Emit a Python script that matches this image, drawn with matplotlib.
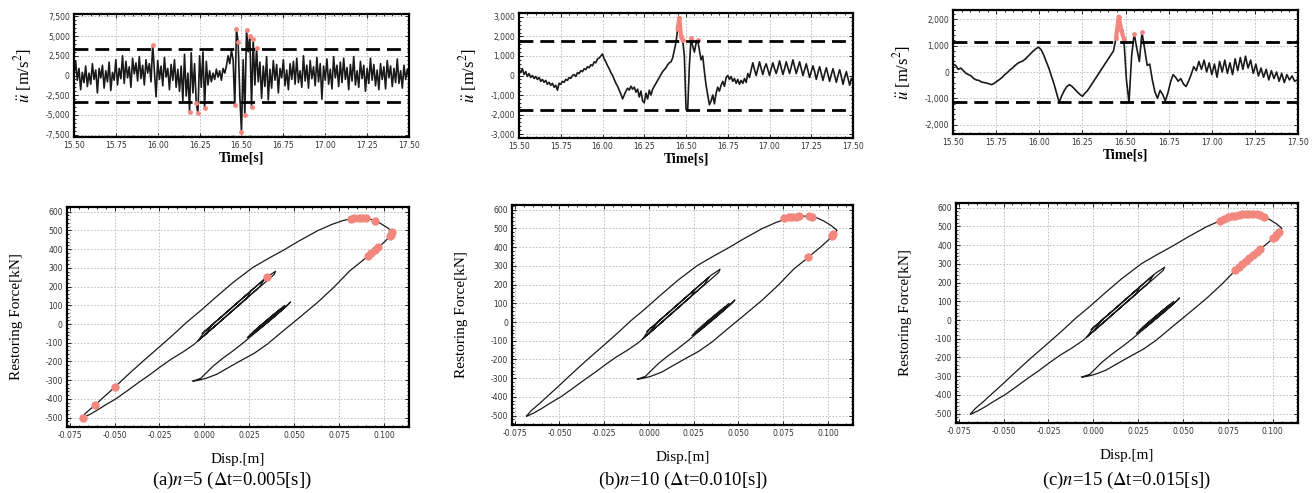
import numpy as np
import matplotlib.pyplot as plt
from matplotlib.ticker import FuncFormatter, AutoMinorLocator, MultipleLocator

plt.rcParams['mathtext.fontset'] = 'stix'
SERIF = 'Liberation Serif'
RED = '#f2877e'

# --- acceleration records (m/s^2), sampled every dt from 15.50 s ---
dt_a, lim_a = 0.01, 3400
acc_a = [
    0, 1800, -600, 900, -1800, 400, -900, 1200, -1400, 300,
    -1100, 1500, -500, 700, -2200, 900, -300, 1300, -1600, 600,
    -800, 1700, -1900, 400, -600, 2000, -1200, 900, -400, 2500,
    -1000, 1800, -300, 1100, -1500, 2200, 200, 1600, -700, 2400,
    -400, 1300, -1200, 2000, 300, 1500, -800, 3900, 600, -2700,
    1900, -500, 1200, -1300, 2300, -200, 900, -1800, 1400, -600,
    2000, -1500, 800, -2000, 1200, -3200, 2700, -2600, 300, -4600,
    2900, -2200, 1500, -3500, -4800, 2500, -1500, 3000, -4100, 1800,
    -1200, 600, -800, 300, -500, 800, -200, 600, -600, 900,
    300, 1200, 2500, 1500, 3200, 2000, -3800, 5900, 4200, -2500,
    -7200, 2000, -5000, 5800, 3000, 5000, -4000, 4600, -1200, 3500,
    -800, 1700, -2900, 1200, -1400, 2400, -3100, 800, -1600, 1900,
    -600, 1400, -2200, 900, -300, 2000, -1300, 700, -1800, 1500,
    -500, 1800, -1100, 2200, -900, 600, -1500, 2500, -700, 1300,
    -1600, 1900, -400, 1100, -1300, 2300, -800, 1500, -3000, 1200,
    -600, 2100, -1100, 800, -1700, 2400, -300, 1300, -1400, 1700,
    -900, 2200, -500, 1000, -1800, 1400, -700, 2400, -1200, 600,
    -1500, 1800, -400, 1300, -2000, 900, -1000, 2200, -600, 1400,
    -1300, 700, -1800, 1500, -500, 1100, -1700, 1900, -300, 1200,
    -1400, 900, -900, 2100, -1000, 600, -1600, 1300, -500, 800,
    -300,
]

dt_b, lim_b = 0.01, 1750
acc_b = [
    300, 150, 350, 50, 200, -50, 100, -100, 0, -150,
    -50, -200, -100, -300, -200, -350, -250, -450, -350, -500,
    -400, -600, -500, -750, -400, -450, -300, -350, -200, -250,
    -100, -150, 0, 50, -50, 150, 100, 250, 200, 350,
    300, 450, 400, 550, 500, 700, 650, 850, 900, 1000,
    1100, 850, 700, 500, 350, 150, 0, -200, -400, -550,
    -750, -950, -1200, -1000, -800, -650, -750, -550, -700, -600,
    -850, -700, -1100, -800, -1300, -1400, -900, -1200, -750, -1000,
    -700, -550, -400, -250, -100, 50, 200, 300, 400, 550,
    650, 700, 900, 1300, 1700, 2400, 2950, 2000, 1800, 1000,
    -1740, -1740, 500, 1900, 1500, 1200, 1650, 1800, 1300, 800,
    1000, 200, -500, -1000, -1500, -1300, -1000, -1450, -900, -600,
    -800, -500, -300, -550, -100, 0, -200, -50, -300, -150,
    -400, -200, -450, -250, -400, -150, -350, 100, -100, 300,
    650, 300, 0, 350, 700, 350, 50, 400, 600, 300,
    0, 350, 650, 350, 100, 400, 750, 400, 50, 350,
    700, 400, 100, 450, 800, 450, 100, 400, 700, 350,
    0, 300, 600, 250, -100, 200, 500, 200, -200, 150,
    450, 100, -250, 100, 400, 50, -300, 50, 350, 0,
    -350, 0, 300, -50, -450, -100, 200, -150, -500, -150,
    -300,
]

dt_c, lim_c = 0.015, 1150
acc_c = [
    300, 250, 100, 150, 50, -50, -100, -150, -250, -300,
    -320, -380, -400, -420, -450, -480, -420, -350, -280, -200,
    -100, -20, 80, 150, 250, 330, 380, 420, 500, 600,
    700, 800, 880, 940, 850, 650, 400, 150, -150, -450,
    -800, -1150, -900, -700, -550, -480, -550, -650, -750, -850,
    -920, -800, -700, -550, -400, -250, -100, 50, 200, 350,
    500, 650, 800, 1300, 2100, 1600, 1250, -300, -1150, 600,
    1450, 900, 400, 1500, 900, 250, 300, -300, -750, -1000,
    -700, -850, -1100, -800, -400, -100, -200, -350, -250, -450,
    -550, -350, -100, 200, 50, 400, 100, 450, 0, 350,
    -100, 300, -200, 400, 0, 450, -50, 350, -100, 500,
    50, 550, 100, 600, 150, 450, -50, 300, -150, 150,
    -200, 100, -300, 50, -250, 0, -350, -50, -400, -100,
    -300, -150, -350, -300,
]

# --- hysteresis path: displacement (m) and restoring force (kN) ---
disp = [
    # small cycles around the origin
    -0.0012, 0.0098, 0.0198, 0.0258, 0.0234, 0.0132, 0.0055, -0.0005,
    0.0054, 0.0156, 0.0281, 0.0335, 0.0309, 0.0190, 0.0090, -0.0035,
    0.0001, 0.0126, 0.0251, 0.0347, 0.0397,
    0.0389, 0.0345, 0.0263, 0.0182, 0.0102, 0.0019, -0.0059,
    # down to the negative peak
    -0.012, -0.018, -0.024, -0.030, -0.037, -0.043, -0.049, -0.055, -0.060, -0.064,
    -0.0675, -0.0685,
    # up to the positive peak
    -0.066, -0.061, -0.056, -0.050, -0.043, -0.034, -0.025, -0.017, -0.010, -0.002,
    0.006, 0.016, 0.027, 0.036, 0.044, 0.053, 0.063, 0.071, 0.077, 0.0815,
    0.086, 0.090, 0.094, 0.098, 0.102, 0.105,
    # unloading
    0.1035, 0.101, 0.097, 0.092, 0.087, 0.081, 0.072, 0.063, 0.053, 0.044,
    0.035, 0.028, 0.020, 0.013, 0.007, 0.001, -0.004, -0.0065,
    -0.002, 0.005, 0.010, 0.016, 0.022, 0.0274, 0.033, 0.0386, 0.043, 0.0475, 0.048,
    # free vibration at the end
    0.0449, 0.0389, 0.0332, 0.0282, 0.0240,
    0.0275, 0.0335, 0.0395, 0.0448,
    0.0426, 0.0366, 0.0311, 0.0269,
    0.0304, 0.0363, 0.0423,
    0.0399, 0.0338, 0.0301,
    0.0333, 0.0392,
    0.0370, 0.0326,
]
force = [
    -50, 40, 125, 175, 135, 50, -15, -65,
    5, 90, 195, 240, 200, 100, 15, -90,
    -40, 65, 170, 250, 282,
    265, 228, 160, 92, 25, -45, -110,
    -150, -185, -225, -268, -315, -357, -398, -432, -462, -484,
    -500, -503,
    -475, -434, -390, -338, -275, -197, -122, -54, 8, 72,
    140, 222, 302, 352, 394, 445, 498, 532, 552, 562,
    566, 565, 556, 538, 514, 490,
    470, 445, 410, 370, 330, 284, 195, 115, 35, -36,
    -108, -155, -197, -235, -268, -290, -302, -305,
    -290, -224, -185, -143, -98, -54, -10, 35, 72, 112, 118,
    88, 40, -5, -45, -72,
    -38, 10, 58, 100,
    70, 22, -22, -55,
    -15, 32, 80,
    48, 0, -30,
    8, 55,
    25, -10,
]

# points flagged in each case (disp, force)
flag_a = [(-0.0675, -500), (-0.061, -434), (-0.050, -338), (0.0347, 250),
          (0.0815, 562), (0.0835, 564), (0.086, 566), (0.088, 566), (0.090, 565),
          (0.095, 552), (0.1045, 492), (0.104, 478), (0.1035, 468),
          (0.097, 410), (0.095, 395), (0.093, 378), (0.091, 362)]
flag_b = [(0.0755, 556), (0.078, 560), (0.080, 562), (0.082, 563), (0.084, 565),
          (0.0895, 564), (0.091, 561), (0.103, 470), (0.1025, 462), (0.089, 348)]
flag_c = [(0.0707, 531), (0.073, 540), (0.075, 548), (0.077, 553), (0.079, 558),
          (0.081, 561), (0.083, 564), (0.085, 566), (0.087, 566), (0.089, 566),
          (0.091, 564), (0.093, 560), (0.095, 552),
          (0.1035, 470), (0.1025, 462), (0.101, 445), (0.100, 437),
          (0.079, 268), (0.081, 284), (0.083, 300), (0.085, 316), (0.087, 330),
          (0.089, 346), (0.091, 362), (0.093, 378)]

cases = [
    (acc_a, dt_a, lim_a, 7800, 2500, flag_a, r'(a)$n$=5 ($\Delta$t=0.005[s])'),
    (acc_b, dt_b, lim_b, 3200, 1000, flag_b, r'(b)$n$=10 ($\Delta$t=0.010[s])'),
    (acc_c, dt_c, lim_c, 2350, 1000, flag_c, r'(c)$n$=15 ($\Delta$t=0.015[s])'),
]

top_rects = [[0.0562, 0.7221, 0.2546, 0.2495],
             [0.3944, 0.7201, 0.2538, 0.2535],
             [0.7242, 0.7282, 0.2622, 0.2515]]
bot_rects = [[0.0509, 0.1339, 0.2599, 0.4462],
             [0.3891, 0.1379, 0.2591, 0.4462],
             [0.7264, 0.1420, 0.2599, 0.4462]]
cap_x = [0.176, 0.519, 0.856]


def style(ax):
    for s in ax.spines.values():
        s.set_linewidth(1.6)
    ax.tick_params(which='both', direction='in', labelsize=5.5, labelcolor='#333333',
                   width=0.6, top=True, right=True, pad=3)
    ax.tick_params(which='major', length=3)
    ax.tick_params(which='minor', length=1.5)
    ax.xaxis.set_minor_locator(AutoMinorLocator(5))
    ax.yaxis.set_minor_locator(AutoMinorLocator(5))
    ax.grid(True, which='major', color='#b8b8b8', ls=(0, (2, 2)), lw=0.6)
    ax.set_axisbelow(True)


fig = plt.figure(figsize=(13.16, 4.93), dpi=100)

for k, (acc, dt, lim, ymax, ystep, flags, cap) in enumerate(cases):
    acc = np.array(acc, dtype=float)
    t = 15.5 + dt * np.arange(len(acc))

    ax = fig.add_axes(top_rects[k])
    style(ax)
    ax.plot(t, acc, color='#1a1a1a', lw=1.2, zorder=2)
    # exceedances of the threshold
    over = np.abs(acc) > lim
    if k > 0:
        ax.plot(t, np.where(acc > lim, acc, np.nan), color=RED, lw=3, zorder=3)
    ax.plot(t[over], acc[over], 'o', color=RED, ms=3.5, mec='none', zorder=4)
    ax.axhline(lim, color='black', lw=2, ls=(0, (5, 2.5)), zorder=5)
    ax.axhline(-lim, color='black', lw=2, ls=(0, (5, 2.5)), zorder=5)
    ax.set_xlim(15.5, 17.5)
    ax.set_ylim(-ymax, ymax)
    ax.xaxis.set_major_locator(MultipleLocator(0.25))
    ax.yaxis.set_major_locator(MultipleLocator(ystep))
    ax.xaxis.set_major_formatter(FuncFormatter(lambda v, p: f'{v:.2f}'))
    ax.yaxis.set_major_formatter(FuncFormatter(lambda v, p: f'{v:,.0f}'))
    ax.set_xlabel('Time[s]', family=SERIF, fontsize=10, fontweight='bold', labelpad=1)
    ax.set_ylabel(r'$\ddot{u}$ [m/s$^2$]', family=SERIF, fontsize=12, labelpad=8)

    bx = fig.add_axes(bot_rects[k])
    style(bx)
    bx.plot(disp, force, color='#1a1a1a', lw=0.9, zorder=2)
    fx, fy = zip(*flags)
    bx.plot(fx, fy, 'o', color=RED, ms=6, mec='none', zorder=3)
    bx.set_xlim(-0.0765, 0.114)
    bx.set_ylim(-550, 625)
    bx.xaxis.set_major_locator(MultipleLocator(0.025))
    bx.yaxis.set_major_locator(MultipleLocator(100))
    bx.xaxis.set_major_formatter(FuncFormatter(lambda v, p: f'{v:.3f}'))
    bx.yaxis.set_major_formatter(FuncFormatter(lambda v, p: f'{v:.0f}'))
    bx.set_xlabel('Disp.[m]', family=SERIF, fontsize=11, labelpad=9)
    bx.set_ylabel('Restoring Force[kN]', family=SERIF, fontsize=11, labelpad=16)

    fig.text(cap_x[k], 0.004, cap, ha='center', va='bottom', family=SERIF, fontsize=13.5)

fig.savefig('out.png', dpi=100)
